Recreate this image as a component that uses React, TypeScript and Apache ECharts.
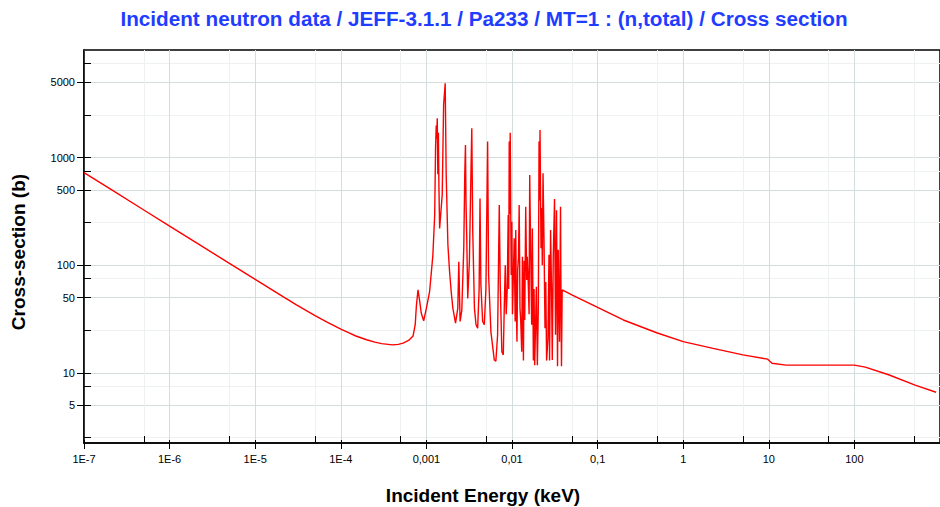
import React, { useEffect, useRef } from "react";
import * as echarts from "echarts";

const TITLE = "Incident neutron data / JEFF-3.1.1 / Pa233 / MT=1 : (n,total) / Cross section";
const X_NAME = "Incident Energy (keV)";
const Y_NAME = "Cross-section (b)";

const xMajorTicks = [1e-7, 1e-6, 1e-5, 1e-4, 0.001, 0.01, 0.1, 1, 10, 100];
const xTickLabels = ["1E-7", "1E-6", "1E-5", "1E-4", "0,001", "0,01", "0,1", "1", "10", "100"];
const xMinorTicks = [5e-7, 5e-6, 5e-5, 5e-4, 0.005, 0.05, 0.5, 5, 50, 500];
const yMajorTicks = [5, 10, 50, 100, 500, 1000, 5000];
const yTickLabels = ["5", "10", "50", "100", "500", "1000", "5000"];
const yMinorTicks = [2.5, 7.5, 25, 75, 250, 750, 2500, 7500];
const xRange = [1e-7, 1000];
const yRange = [2.23, 10000];

// Incident energy (keV) and total cross-section (barn)
const energyKeV = [
  1e-7, 2e-7, 5e-7, 1e-6, 2e-6, 5e-6, 1e-5, 2e-5, 3e-5, 5e-5,
  7e-5, 1e-4, 1.25e-4, 1.5e-4, 2e-4, 2.5e-4, 3e-4, 4e-4, 4.7e-4, 5.35e-4,
  6.2e-4, 6.98e-4, 7.4e-4, 7.64e-4,
  7.98e-4, 8.3e-4, 8.7e-4, 9.3e-4, 1.0e-3, 1.09e-3, 1.19e-3, 1.25e-3, 1.28e-3, 1.303e-3,
  1.32e-3, 1.339e-3, 1.36e-3, 1.38e-3, 1.4e-3, 1.427e-3, 1.53e-3, 1.589e-3, 1.658e-3, 1.703e-3,
  1.783e-3, 1.866e-3, 1.947e-3, 2.037e-3, 2.189e-3, 2.328e-3, 2.391e-3, 2.475e-3, 2.591e-3, 2.733e-3,
  2.807e-3, 2.86e-3, 2.9e-3, 2.96e-3, 3.04e-3, 3.18e-3, 3.3e-3, 3.39e-3, 3.48e-3, 3.64e-3,
  3.8e-3, 3.97e-3, 4.13e-3, 4.23e-3, 4.33e-3, 4.54e-3, 4.75e-3, 4.96e-3, 5.19e-3, 5.33e-3,
  5.67e-3, 6.21e-3, 6.48e-3, 6.79e-3, 7.1e-3, 7.29e-3, 7.61e-3, 7.91e-3, 8.12e-3, 8.34e-3,
  8.56e-3, 8.8e-3, 9.03e-3, 9.15e-3, 9.28e-3, 9.4e-3, 9.53e-3, 9.79e-3, 9.95e-3, 1.013e-2,
  1.061e-2, 1.089e-2, 1.107e-2, 1.125e-2, 1.143e-2, 1.165e-2, 1.19e-2, 1.213e-2, 1.24e-2, 1.265e-2,
  1.299e-2, 1.324e-2, 1.36e-2, 1.385e-2, 1.408e-2, 1.446e-2, 1.485e-2, 1.51e-2, 1.542e-2, 1.584e-2,
  1.61e-2, 1.653e-2, 1.698e-2, 1.73e-2, 1.777e-2, 1.81e-2, 1.84e-2, 1.89e-2, 1.926e-2, 1.978e-2,
  2.032e-2, 2.07e-2, 2.1e-2, 2.125e-2, 2.183e-2, 2.218e-2, 2.26e-2, 2.304e-2, 2.366e-2, 2.43e-2,
  2.48e-2, 2.536e-2, 2.632e-2, 2.704e-2, 2.748e-2, 2.823e-2, 2.9e-2, 2.954e-2, 3.034e-2, 3.14e-2,
  3.226e-2, 3.313e-2, 3.403e-2, 3.467e-2, 3.53e-2, 3.591e-2, 3.688e-2, 3.74e-2, 3.785e-2,
  3.855e-2, 5e-2, 0.1, 0.2, 0.49, 1, 2.23, 4.98, 9.7, 10.9,
  15.9, 100, 134, 251, 512, 900,
];
const crossSectionB = [
  726, 515, 326, 231, 164, 104, 74, 52.5, 43, 34,
  29.5, 25.5, 23.5, 22, 20.3, 19.3, 18.7, 18.2, 18.4, 18.9,
  20, 22, 28, 42,
  59, 48, 36, 30.5, 40, 57, 124, 293, 1260, 1990,
  1500, 2320, 700, 1700, 550, 220, 450, 3100, 4900, 690,
  155, 87, 57, 40, 29, 40, 108, 30, 38, 145,
  700, 1313, 400, 180, 49, 110, 600, 1875, 205, 40,
  28, 26, 60, 417, 66, 30, 28, 61, 1410, 81,
  24, 13.2, 12.8, 22.6, 362, 66, 15.7, 14.7, 40, 100,
  35, 61, 293, 60, 1410, 300, 1700, 81, 254, 35,
  178, 30, 213, 40, 19.5, 90, 117, 362, 40, 30,
  15.7, 120, 13, 110, 31, 350, 73, 120, 76, 35,
  690, 134, 28, 220, 13, 60, 11.8, 30, 63, 11.8,
  43, 1410, 400, 1807, 144, 340, 100, 716, 166, 26,
  70, 13, 21, 125, 13, 213, 57, 13.2, 120, 413,
  22.6, 324, 11.5, 139, 45, 19.5, 350, 40, 11.5,
  59, 53, 40.6, 31, 23.6, 19.5, 16.9, 14.7, 13.4, 12.3,
  11.8, 11.8, 11.3, 9.6, 7.7, 6.6,
];

const FONT = '"Liberation Sans", Arial, Helvetica, sans-serif';
const L = (v: number) => Math.log10(v);

function labelFor(ticks: number[], labels: string[]) {
  return (v: number) => {
    const i = ticks.findIndex((t) => Math.abs(L(t) - v) < 1e-6);
    return i >= 0 ? labels[i] : "";
  };
}

export default function App() {
  const ref = useRef<HTMLDivElement>(null);
  useEffect(() => {
    if (!ref.current) return;
    const chart = echarts.init(ref.current, undefined, { renderer: "svg" });
    const xMin = L(xRange[0]);
    const xMax = L(xRange[1]);
    const yMin = L(yRange[0]);
    const yMax = L(yRange[1]);
    const majorGrid = "#d3dddd";
    const minorGrid = "#edf1f1";
    const hidden = {
      axisLine: { show: false, onZero: false },
      axisLabel: { show: false },
      axisTick: { show: false },
      splitLine: { show: false },
    };
    const xBase = { type: "value", min: xMin, max: xMax, position: "bottom", gridIndex: 0, ...hidden };
    const yBase = { type: "value", min: yMin, max: yMax, position: "left", gridIndex: 0, ...hidden };
    const data = energyKeV.map((e, i) => [L(e), L(crossSectionB[i])]);

    chart.setOption({
      animation: false,
      backgroundColor: "#ffffff",
      grid: {
        left: 84,
        top: 50,
        right: -5,
        bottom: 64,
        show: true,
        borderColor: "#000000",
        borderWidth: 1.5,
        backgroundColor: "#ffffff",
      },
      xAxis: [
        {
          ...xBase,
          axisLine: { show: true, onZero: false, lineStyle: { color: "#000", width: 1.5 } },
          axisTick: {
            show: true,
            inside: false,
            length: 6,
            customValues: xMajorTicks.map(L),
            lineStyle: { color: "#000", width: 1 },
          },
          axisLabel: {
            show: true,
            customValues: xMajorTicks.map(L),
            formatter: labelFor(xMajorTicks, xTickLabels),
            color: "#000",
            fontSize: 11,
            fontFamily: FONT,
            margin: 10,
          },
          splitLine: { show: true, lineStyle: { color: majorGrid, width: 1 } },
        },
        {
          ...xBase,
          axisTick: {
            show: true,
            inside: true,
            length: 7,
            customValues: xMinorTicks.map(L),
            lineStyle: { color: "#000", width: 1 },
          },
          splitLine: { show: true, lineStyle: { color: minorGrid, width: 1 } },
        },
        {
          ...xBase,
          axisTick: {
            show: true,
            inside: true,
            length: 3,
            customValues: xMajorTicks.map(L),
            lineStyle: { color: "#000", width: 1 },
          },
        },
      ],
      yAxis: [
        {
          ...yBase,
          axisLine: { show: true, onZero: false, lineStyle: { color: "#000", width: 1.5 } },
          axisTick: {
            show: true,
            inside: false,
            length: 7,
            customValues: yMajorTicks.map(L),
            lineStyle: { color: "#000", width: 1 },
          },
          axisLabel: {
            show: true,
            customValues: yMajorTicks.map(L),
            formatter: labelFor(yMajorTicks, yTickLabels),
            color: "#000",
            fontSize: 11,
            fontFamily: FONT,
            margin: 9,
          },
          splitLine: { show: true, lineStyle: { color: majorGrid, width: 1 } },
        },
        {
          ...yBase,
          axisTick: {
            show: true,
            inside: true,
            length: 7,
            customValues: yMinorTicks.map(L),
            lineStyle: { color: "#000", width: 1 },
          },
          splitLine: { show: true, lineStyle: { color: minorGrid, width: 1 } },
        },
        {
          ...yBase,
          axisTick: {
            show: true,
            inside: true,
            length: 7,
            customValues: yMajorTicks.map(L),
            lineStyle: { color: "#000", width: 1 },
          },
        },
      ],
      graphic: [
        {
          type: "text",
          x: 484,
          y: 18,
          style: {
            text: TITLE,
            fill: "#1f3dff",
            fontSize: 20.7,
            fontWeight: "bold",
            fontFamily: FONT,
            align: "center",
            verticalAlign: "middle",
          },
        },
        {
          type: "text",
          x: 483,
          y: 495,
          style: {
            text: X_NAME,
            fill: "#000",
            fontSize: 19,
            fontWeight: "bold",
            fontFamily: FONT,
            align: "center",
            verticalAlign: "middle",
          },
        },
        {
          type: "text",
          x: 18,
          y: 252,
          rotation: Math.PI / 2,
          style: {
            text: Y_NAME,
            fill: "#000",
            fontSize: 19,
            fontWeight: "bold",
            fontFamily: FONT,
            align: "center",
            verticalAlign: "middle",
          },
        },
      ],
      series: [
        {
          type: "line",
          xAxisIndex: 0,
          yAxisIndex: 0,
          data,
          symbol: "none",
          showSymbol: false,
          clip: true,
          z: 5,
          lineStyle: { color: "#ff0000", width: 1.4 },
        },
      ],
    });
    return () => chart.dispose();
  }, []);
  return (
    <div
      ref={ref}
      style={{ position: "absolute", left: 0, top: 0, width: 940, height: 507 }}
    />
  );
}
